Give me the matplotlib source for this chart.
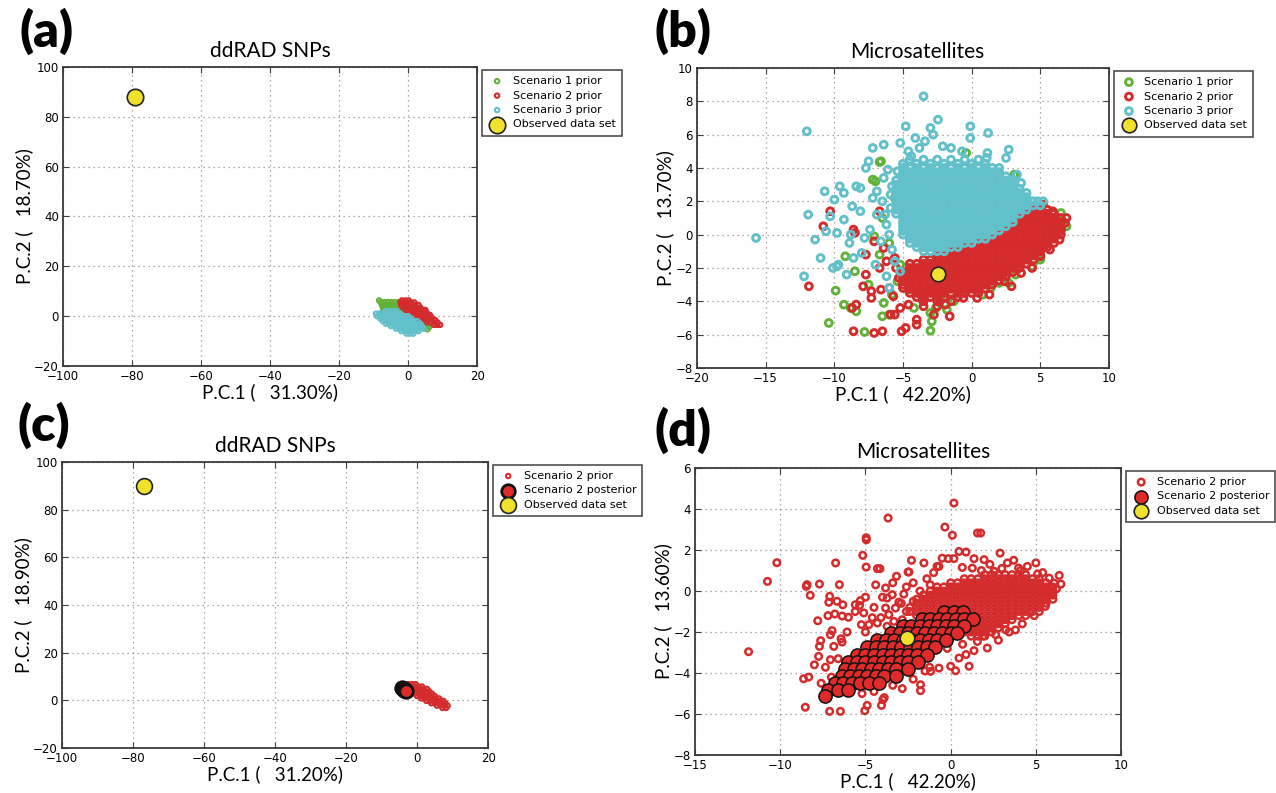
import matplotlib
matplotlib.use("Agg")
import matplotlib.pyplot as plt

GREEN = "#62b23a"
RED = "#d42c2c"
CYAN = "#62c0cb"
YELLOW = "#f0e22c"
LABEL_FONT = "Lato"

# ---------------- panel (a): ddRAD SNPs, prior clouds ----------------
A_OBS = [(-79, 88)]
A_GREEN_ROWS = [
    (6.3, [-8.4]),
    (5.6, [-7.9, -6.9, -5.9, -4.9, -3.9, -2.9]),
    (4.6, [-7.6, -6.6, -5.6, -4.6, -3.6, -2.6]),
    (3.6, [-7.3, -6.3, -5.3, -4.3, -3.3, -2.4]),
    (2.6, [-7.0, -6.0, -5.0, -4.0, -3.0, -2.0]),
    (1.6, [-7.4, -6.4, -5.4, -4.4, -3.4, -2.4, -1.4]),
    (0.6, [-0.6, 0.4, 1.4]),
    (-0.4, [0.6, 1.6, 2.6]),
    (-1.4, [1.8, 2.8, 3.8]),
    (-2.4, [2.8, 3.8, 4.8]),
    (-3.4, [3.6, 4.6, 5.6]),
    (-4.4, [4.2, 5.2, 6.1]),
    (-5.3, [5.6]),
]
A_RED_ROWS = [
    (6.3, [-1.8, -0.8, 0.2]),
    (5.5, [-2.2, -1.2, -0.2, 0.8, 1.8]),
    (4.5, [-2.0, -1.0, 0.0, 1.0, 2.0, 3.0]),
    (3.5, [-1.5, -0.5, 0.5, 1.5, 2.5, 3.5]),
    (2.5, [-0.8, 0.2, 1.2, 2.2, 3.2, 4.2, 5.0]),
    (1.5, [0.3, 1.3, 2.3, 3.3, 4.3, 5.3]),
    (0.5, [1.5, 2.5, 3.5, 4.5, 5.5, 6.3]),
    (-0.5, [2.8, 3.8, 4.8, 5.8, 6.8]),
    (-1.5, [4.0, 5.0, 6.0, 7.0, 7.8]),
    (-2.5, [5.5, 6.5, 7.5, 8.5]),
    (-3.5, [7.5, 8.5, 9.3]),
]
A_CYAN_ROWS = [
    (2.0, [-6.5, -5.5, -4.5, -3.5]),
    (1.0, [-9.3, -8.3, -7.3, -6.3, -5.3, -4.3, -3.3, -2.3]),
    (0.0, [-9.0, -8.0, -7.0, -6.0, -5.0, -4.0, -3.0, -2.0, -1.0, 0.0]),
    (-1.0, [-8.0, -7.0, -6.0, -5.0, -4.0, -3.0, -2.0, -1.0, 0.0, 1.0]),
    (-2.0, [-7.3, -6.3, -5.3, -4.3, -3.3, -2.3, -1.3, -0.3, 0.7, 1.7, 2.7]),
    (-3.0, [-6.5, -5.5, -4.5, -3.5, -2.5, -1.5, -0.5, 0.5, 1.5, 2.5, 3.5]),
    (-4.0, [-5.0, -4.0, -3.0, -2.0, -1.0, 0.0, 1.0, 2.0, 3.0, 4.0]),
    (-5.0, [-3.5, -2.5, -1.5, -0.5, 0.5, 1.5, 2.5, 3.5, 4.5]),
    (-6.0, [-2.0, -1.0, 0.0, 1.0, 2.0, 3.0]),
    (-7.0, [-0.5, 0.5, 1.5]),
]

# ---------------- panel (b): microsatellites, prior clouds ----------------
B_OBS = [(-2.45, -2.35)]
B_GREEN_PTS = [
    (-6.7, 4.36), (-7.2, 3.3), (-9.2, -1.3), (-9.9, -3.36), (-9.3, -4.2), (-8.4, -4.6),
    (-10.4, -5.3), (-7.8, -5.84), (-6.4, -4.1), (-6.5, -4.9), (-6.0, -4.8), (-6.7, -1.2),
    (-7.1, -0.1), (-5.4, -2.8), (-3.0, -5.76), (-2.9, -5.2), (-3.0, -4.7), (6.5, 1.3),
    (6.55, 0.84), (4.55, -1.6), (4.4, -1.9), (4.8, -1.2), (-2.3, -3.8), (-1.3, -4.0),
    (-0.07, -3.2), (1.4, -3.2), (5.5, 0.6), (-0.4, 4.9), (-2.5, 4.0), (3.1, 3.6),
    (-6.5, 1.0), (-5.6, 2.2), (-6.0, -0.5), (-5.2, -1.8), (-4.6, -3.3), (-5.8, -3.6),
    (-4.2, -4.4), (-3.6, -3.9), (-2.6, -4.4), (-1.8, -4.5), (-0.6, -3.5), (0.8, -3.6),
    (2.0, -2.9), (3.2, -2.4), (3.8, -1.4), (5.2, -0.6), (5.8, 0.0), (6.2, 0.4),
    (4.9, 1.4), (-1.2, 3.5), (-3.6, 3.2), (-4.4, 2.0), (-8.5, -2.2), (-7.5, -3.0),
    (-8.8, -4.4), (-6.6, 4.4), (-7.0, 3.2), (6.9, 0.5), (5.0, -1.5), (2.7, -2.9),
]
B_RED_ROWS = [
    (1.5, [4.5, 5.0, 5.5]),
    (1.25, [4.0, 4.5, 5.0, 5.5, 6.0]),
    (1.0, [3.5, 4.0, 4.5, 5.0, 5.5, 6.0, 6.5]),
    (0.75, [3.5, 4.0, 4.5, 5.0, 5.5, 6.0, 6.5]),
    (0.5, [3.0, 3.5, 4.0, 4.5, 5.0, 5.5, 6.0, 6.5]),
    (0.25, [2.5, 3.0, 3.5, 4.0, 4.5, 5.0, 5.5, 6.0, 6.5]),
    (0.0, [2.0, 2.5, 3.0, 3.5, 4.0, 4.5, 5.0, 5.5, 6.0, 6.5]),
    (-0.25, [1.5, 2.0, 2.5, 3.0, 3.5, 4.0, 4.5, 5.0, 5.5, 6.0]),
    (-0.5, [0.5, 1.0, 1.5, 2.0, 2.5, 3.0, 3.5, 4.0, 4.5, 5.0, 5.5, 6.0]),
    (-0.75, [-0.5, 0.0, 0.5, 1.0, 1.5, 2.0, 2.5, 3.0, 3.5, 4.0, 4.5, 5.0, 5.5]),
    (-1.0, [-1.5, -1.0, -0.5, 0.0, 0.5, 1.0, 1.5, 2.0, 2.5, 3.0, 3.5, 4.0, 4.5, 5.0]),
    (-1.25, [-2.5, -2.0, -1.5, -1.0, -0.5, 0.0, 0.5, 1.0, 1.5, 2.0, 2.5, 3.0, 3.5, 4.0,
             4.5, 5.0]),
    (-1.5, [-3.5, -3.0, -2.5, -2.0, -1.5, -1.0, -0.5, 0.0, 0.5, 1.0, 1.5, 2.0, 2.5, 3.0,
            3.5, 4.0, 4.5]),
    (-1.75, [-4.5, -4.0, -3.5, -3.0, -2.5, -2.0, -1.5, -1.0, -0.5, 0.0, 0.5, 1.0, 1.5,
             2.0, 2.5, 3.0, 3.5, 4.0]),
    (-2.0, [-4.5, -4.0, -3.5, -3.0, -2.5, -2.0, -1.5, -1.0, -0.5, 0.0, 0.5, 1.0, 1.5,
            2.0, 2.5, 3.0, 3.5]),
    (-2.25, [-5.0, -4.5, -4.0, -3.5, -3.0, -2.5, -2.0, -1.5, -1.0, -0.5, 0.0, 0.5, 1.0,
             1.5, 2.0, 2.5, 3.0]),
    (-2.5, [-5.0, -4.5, -4.0, -3.5, -3.0, -2.5, -2.0, -1.5, -1.0, -0.5, 0.0, 0.5, 1.0,
            1.5, 2.0, 2.5]),
    (-2.75, [-5.0, -4.5, -4.0, -3.5, -3.0, -2.5, -2.0, -1.5, -1.0, -0.5, 0.0, 0.5, 1.0,
             1.5, 2.0]),
    (-3.0, [-5.0, -4.5, -4.0, -3.5, -3.0, -2.5, -2.0, -1.5, -1.0, -0.5, 0.0, 0.5, 1.0, 1.5]),
    (-3.25, [-4.5, -4.0, -3.5, -3.0, -2.5, -2.0, -1.5, -1.0, -0.5, 0.0, 0.5, 1.0]),
    (-3.5, [-4.5, -4.0, -3.5, -3.0, -2.5, -2.0, -1.5, -1.0, -0.5, 0.0, 0.5]),
    (-3.75, [-4.0, -3.5, -3.0, -2.5, -2.0, -1.0]),
    (-4.0, [-3.5, -2.5, -1.5]),
]
B_RED_PTS = [
    (-10.3, 1.4), (-10.8, 0.5), (-8.6, 0.3), (-8.5, 0.1), (-11.85, -3.1), (-7.7, -2.4),
    (-7.9, -3.1), (-7.3, -3.8), (-8.7, -4.4), (-8.4, -4.2), (-8.6, -5.8), (-7.1, -5.9),
    (-6.5, -5.8), (-5.1, -5.8), (-5.9, -4.8), (-5.6, -4.8), (-6.7, -2.0), (-7.1, -0.4),
    (-6.4, -0.8), (-6.7, 1.4), (-6.0, -3.2), (-6.6, -3.3), (-7.3, -3.4), (-5.2, -4.4),
    (-7.7, -1.2), (-4.8, -5.6), (-4.0, -5.4), (-4.0, -5.1), (-2.75, -4.8), (-1.6, -4.9),
    (-2.5, -4.3), (-0.6, -3.8), (0.4, -3.8), (1.3, -3.6), (2.4, -2.8), (-5.6, -1.4),
    (-5.3, -2.6), (-5.7, -3.7), (-5.0, -3.2), (-4.6, -4.2), (-3.5, -4.3), (-1.9, -4.2),
    (-5.5, -2.0), (-6.2, -1.6), (2.9, -3.1), (3.6, -2.3), (4.4, -2.0), (5.0, -1.3),
    (5.7, -0.9), (6.4, -0.3), (6.8, 0.7), (6.9, 1.0), (5.9, 1.4), (5.2, 1.8),
]
B_CYAN_ROWS = [
    (4.5, [-4.5, -3.5, -2.5, -1.5, -0.5, 0.5]),
    (4.25, [-5.0, -4.0, -3.0, -2.0, -1.0, 0.0, 1.0]),
    (4.0, [-5.0, -4.5, -4.0, -3.5, -3.0, -2.5, -2.0, -1.5, -1.0, -0.5, 0.0, 0.5, 1.0, 1.5]),
    (3.75, [-5.0, -4.5, -4.0, -3.5, -3.0, -2.5, -2.0, -1.5, -1.0, -0.5, 0.0, 0.5, 1.0,
            1.5, 2.0]),
    (3.5, [-5.0, -4.5, -4.0, -3.5, -3.0, -2.5, -2.0, -1.5, -1.0, -0.5, 0.0, 0.5, 1.0,
           1.5, 2.0, 2.5]),
    (3.25, [-5.5, -5.0, -4.5, -4.0, -3.5, -3.0, -2.5, -2.0, -1.5, -1.0, -0.5, 0.0, 0.5,
            1.0, 1.5, 2.0, 2.5, 3.0]),
    (3.0, [-5.5, -5.0, -4.5, -4.0, -3.5, -3.0, -2.5, -2.0, -1.5, -1.0, -0.5, 0.0, 0.5,
           1.0, 1.5, 2.0, 2.5, 3.0]),
    (2.75, [-5.5, -5.0, -4.5, -4.0, -3.5, -3.0, -2.5, -2.0, -1.5, -1.0, -0.5, 0.0, 0.5,
            1.0, 1.5, 2.0, 2.5, 3.0, 3.5]),
    (2.5, [-5.5, -5.0, -4.5, -4.0, -3.5, -3.0, -2.5, -2.0, -1.5, -1.0, -0.5, 0.0, 0.5,
           1.0, 1.5, 2.0, 2.5, 3.0, 3.5, 4.0]),
    (2.25, [-5.5, -5.0, -4.5, -4.0, -3.5, -3.0, -2.5, -2.0, -1.5, -1.0, -0.5, 0.0, 0.5,
            1.0, 1.5, 2.0, 2.5, 3.0, 3.5, 4.0]),
    (2.0, [-5.5, -5.0, -4.5, -4.0, -3.5, -3.0, -2.5, -2.0, -1.5, -1.0, -0.5, 0.0, 0.5,
           1.0, 1.5, 2.0, 2.5, 3.0, 3.5, 4.0, 4.5]),
    (1.75, [-5.5, -5.0, -4.5, -4.0, -3.5, -3.0, -2.5, -2.0, -1.5, -1.0, -0.5, 0.0, 0.5,
            1.0, 1.5, 2.0, 2.5, 3.0, 3.5, 4.0, 4.5, 5.0]),
    (1.5, [-5.5, -5.0, -4.5, -4.0, -3.5, -3.0, -2.5, -2.0, -1.5, -1.0, -0.5, 0.0, 0.5,
           1.0, 1.5, 2.0, 2.5, 3.0, 3.5, 4.0]),
    (1.25, [-5.5, -5.0, -4.5, -4.0, -3.5, -3.0, -2.5, -2.0, -1.5, -1.0, -0.5, 0.0, 0.5,
            1.0, 1.5, 2.0, 2.5, 3.0, 3.5]),
    (1.0, [-5.0, -4.5, -4.0, -3.5, -3.0, -2.5, -2.0, -1.5, -1.0, -0.5, 0.0, 0.5, 1.0,
           1.5, 2.0, 2.5, 3.0]),
    (0.75, [-5.0, -4.5, -4.0, -3.5, -3.0, -2.5, -2.0, -1.5, -1.0, -0.5, 0.0, 0.5, 1.0,
            1.5, 2.0, 2.5, 3.0]),
    (0.5, [-5.0, -4.5, -4.0, -3.5, -3.0, -2.5, -2.0, -1.5, -1.0, -0.5, 0.0, 0.5, 1.0,
           1.5, 2.0, 2.5]),
    (0.25, [-5.0, -4.5, -4.0, -3.5, -3.0, -2.5, -2.0, -1.5, -1.0, -0.5, 0.0, 0.5, 1.0,
            1.5, 2.0]),
    (0.0, [-5.0, -4.5, -4.0, -3.5, -3.0, -2.5, -2.0, -1.5, -1.0, -0.5, 0.0, 0.5, 1.0, 1.5]),
    (-0.25, [-4.5, -4.0, -3.5, -3.0, -2.5, -2.0, -1.5, -1.0, -0.5, 0.0, 0.5, 1.0]),
    (-0.5, [-4.5, -4.0, -3.5, -3.0, -2.5, -2.0, -1.5, -1.0, -0.5, 0.0]),
    (-0.75, [-4.0, -3.5, -3.0, -2.5, -2.0, -1.5, -1.0]),
    (-1.0, [-3.5, -3.0, -2.5, -2.0]),
]
B_CYAN_PTS = [
    (-15.7, -0.2), (-12.0, 6.2), (-12.2, -2.5), (-11.4, -0.3), (-11.0, -1.4), (-11.9, 1.2),
    (-10.7, 2.6), (-10.0, 2.1), (-9.6, 2.9), (-9.3, 2.5), (-10.6, 0.2), (-10.1, -2.0),
    (-9.8, -1.9), (-9.1, -2.4), (-8.7, 1.7), (-8.4, 2.9), (-8.1, 2.8), (-7.7, 4.0),
    (-7.2, 5.2), (-6.4, 5.4), (-5.2, 5.5), (-7.5, 4.4), (-7.2, 2.2), (-8.1, 1.4),
    (-8.9, -0.5), (-8.6, -1.4), (-8.0, -1.1), (-8.8, 0.0), (-9.8, 0.1), (-6.4, 3.4),
    (-5.4, 3.8), (-5.8, 2.9), (-4.9, 4.0), (-3.5, 8.3), (-2.45, 6.9), (-3.0, 6.4),
    (-4.8, 6.5), (-0.1, 6.5), (-0.1, 5.8), (1.2, 6.1), (-2.8, 6.0), (-4.1, 5.8),
    (-3.8, 5.2), (-2.1, 5.3), (-1.5, 5.2), (-0.7, 5.0), (1.15, 4.9), (1.1, 4.6),
    (2.7, 5.1), (2.5, 4.6), (2.0, 4.0), (3.3, 3.6), (3.6, 3.1), (2.8, 3.2),
    (3.9, 2.2), (4.8, 2.0), (5.2, 2.0), (-6.5, 2.0), (-6.9, 1.2), (-6.2, 0.6),
    (-7.4, 0.3), (-6.6, -0.4), (-5.8, -0.9), (-7.0, -1.8), (-6.2, -2.5), (-5.6, -1.6),
    (-6.0, -3.2), (-5.2, -2.2), (-4.6, 5.0), (-3.4, 5.6), (-4.4, 4.7), (-6.9, 2.6),
    (-5.9, 1.6), (-7.8, -0.2), (-9.3, 0.9), (-9.7, -1.8), (-10.3, 1.1), (-6.1, 3.9),
    (-6.3, 1.2), (-6.0, 0.0), (-5.9, 2.4),
]

# ---------------- panel (c): ddRAD SNPs, scenario 2 ----------------
C_OBS = [(-77, 90)]
C_PRIOR_ROWS = [
    (6.8, [-2.4, -1.4, -0.4]),
    (5.8, [-2.6, -1.6, -0.6, 0.4, 1.4]),
    (4.8, [-2.2, -1.2, -0.2, 0.8, 1.8, 2.8]),
    (3.8, [-1.6, -0.6, 0.4, 1.4, 2.4, 3.4]),
    (2.8, [-0.8, 0.2, 1.2, 2.2, 3.2, 4.2]),
    (1.8, [0.0, 1.0, 2.0, 3.0, 4.0, 5.0]),
    (0.8, [1.2, 2.2, 3.2, 4.2, 5.2, 6.2]),
    (-0.2, [2.6, 3.6, 4.6, 5.6, 6.6, 7.4]),
    (-1.2, [4.0, 5.0, 6.0, 7.0, 8.0]),
    (-2.2, [5.6, 6.6, 7.6, 8.6]),
    (-3.2, [7.2, 8.2]),
]
C_POST_PTS = [(-4.2, 5.0), (-3.8, 4.7), (-3.6, 4.4), (-3.2, 4.0)]

# ---------------- panel (d): microsatellites, scenario 2 ----------------
D_OBS = [(-2.55, -2.3)]
D_PRIOR_ROWS = [
    (0.8, [2.0, 2.4, 2.8, 3.2, 3.6, 4.0, 4.4]),
    (0.6, [0.8, 1.2, 1.6, 2.0, 2.4, 2.8, 3.2, 3.6, 4.0, 4.4, 4.8, 5.2]),
    (0.4, [0.0, 0.4, 0.8, 1.2, 1.6, 2.0, 2.4, 2.8, 3.2, 3.6, 4.0, 4.4, 4.8, 5.2, 5.6]),
    (0.2, [-0.8, -0.4, 0.0, 0.4, 0.8, 1.2, 1.6, 2.0, 2.4, 2.8, 3.2, 3.6, 4.0, 4.4, 4.8,
           5.2, 5.6, 6.0]),
    (0.0, [-1.2, -0.8, -0.4, 0.0, 0.4, 0.8, 1.2, 1.6, 2.0, 2.4, 2.8, 3.2, 3.6, 4.0, 4.4,
           4.8, 5.2, 5.6, 6.0]),
    (-0.2, [-1.6, -1.2, -0.8, -0.4, 0.0, 0.4, 0.8, 1.2, 1.6, 2.0, 2.4, 2.8, 3.2, 3.6,
            4.0, 4.4, 4.8, 5.2, 5.6, 6.0]),
    (-0.4, [-2.0, -1.6, -1.2, -0.8, -0.4, 0.0, 0.4, 0.8, 1.2, 1.6, 2.0, 2.4, 2.8, 3.2,
            3.6, 4.0, 4.4, 4.8, 5.2, 5.6]),
    (-0.6, [-2.0, -1.6, -1.2, -0.8, -0.4, 0.0, 0.4, 0.8, 1.2, 1.6, 2.0, 2.4, 2.8, 3.2,
            3.6, 4.0, 4.4, 4.8, 5.2, 5.6]),
    (-0.8, [-2.4, -2.0, -1.6, -1.2, -0.8, -0.4, 0.0, 0.4, 0.8, 1.2, 1.6, 2.0, 2.4, 2.8,
            3.2, 3.6, 4.0, 4.4, 4.8, 5.2]),
    (-1.0, [-2.4, -2.0, -1.6, -1.2, -0.8, -0.4, 0.0, 0.4, 0.8, 1.2, 1.6, 2.0, 2.4, 2.8,
            3.2, 3.6, 4.0, 4.4, 4.8]),
    (-1.2, [-2.0, -1.6, -1.2, -0.8, -0.4, 0.0, 0.4, 0.8, 1.2, 1.6, 2.0, 2.4, 2.8, 3.2,
            3.6, 4.0, 4.4]),
    (-1.4, [-1.2, -0.8, -0.4, 0.0, 0.4, 0.8, 1.2, 1.6, 2.0, 2.4, 2.8, 3.2, 3.6]),
    (-1.6, [-0.4, 0.0, 0.4, 0.8, 1.2, 1.6, 2.0, 2.4, 2.8, 3.2]),
    (-1.8, [0.4, 0.8, 1.2, 1.6, 2.0, 2.4, 2.8]),
    (-2.0, [0.8, 1.2, 1.6, 2.0, 2.4]),
    (-2.2, [1.2, 1.6, 2.0]),
]
D_PRIOR_PTS = [
    (-3.67, 3.56), (-4.96, 2.6), (-4.95, 2.5), (-5.16, 1.74), (-4.96, 1.17), (-4.3, 1.09),
    (-4.15, 1.09), (-3.18, 0.72), (-2.5, 0.93), (-10.2, 1.38), (-10.75, 0.47), (-8.43, 0.31),
    (-8.47, 0.23), (-8.24, -0.21), (-7.7, 0.34), (-6.75, 1.37), (-6.53, 0.31), (-11.86, -2.96),
    (-7.8, -1.45), (-7.1, -0.26), (-7.15, -0.55), (-6.67, -0.5), (-6.33, -0.67), (-7.2, -1.2),
    (-6.8, -1.12), (-6.37, -1.22), (-6.0, -1.28), (-5.6, -1.0), (-5.3, -0.47), (-5.35, -0.7),
    (-5.1, -1.07), (-4.5, -0.8), (-5.0, -2.0), (-6.08, -2.0), (-6.96, -1.93), (-7.06, -2.13),
    (-6.43, -2.33), (-6.37, -2.49), (-7.63, -2.42), (-6.86, -2.7), (-7.75, -3.19), (-7.35, -3.72),
    (-7.06, -3.35), (-6.6, -3.3), (-8.63, -4.28), (-8.33, -4.2), (-8.53, -5.67), (-7.1, -5.87),
    (-6.47, -5.87), (-5.04, -5.84), (-4.9, -5.58), (-4.06, -5.58), (-3.98, -5.3), (-3.9, -5.2),
    (-2.84, -4.76), (-3.82, 0.15), (-3.73, -0.34), (-3.43, -0.18), (-3.82, -0.83), (-3.24, -0.83),
    (-3.04, -0.54), (-2.75, -0.15), (-2.6, -1.0), (-5.6, -0.67), (-5.24, -1.64), (-4.8, -1.64),
    (-4.3, -1.56), (-4.1, -1.3), (-3.73, -1.72), (-3.33, -1.48), (-3.63, -1.15), (-2.84, -1.4),
    (0.19, 4.29), (-0.34, 3.12), (0.1, 2.72), (1.57, 2.83), (1.76, 2.83), (0.49, 1.93),
    (2.9, 1.85), (-1.57, 1.37), (-0.14, 1.58), (0.19, 1.58), (1.37, 1.58), (1.96, 1.53),
    (-2.45, 0.93), (-0.69, 1.2), (0.68, 1.15), (1.27, 1.12), (2.55, 0.96), (3.33, 1.37),
    (3.98, 1.12), (5.0, 1.37), (5.1, 0.83), (5.78, 0.63), (6.37, 0.76), (6.47, 0.34),
    (6.07, 0.39), (5.58, -0.05), (5.55, -0.75), (3.23, -1.89), (3.43, -2.0), (2.15, -2.78),
    (1.37, -2.91), (1.08, -3.67), (0.29, -3.89), (0.0, -3.67), (-0.69, -3.76), (-1.24, -3.72),
    (-1.77, -4.57), (-1.77, -4.86), (-1.18, -3.92), (0.49, -3.27), (1.57, -2.46), (2.64, -2.13),
    (-2.2, 0.4), (-1.8, 0.0), (-1.4, 0.6), (-1.0, 0.9), (-2.6, 0.2), (-2.2, -0.5),
    (-2.9, -0.6), (-3.4, 0.4), (-4.0, -0.3), (-4.4, 0.3), (-2.3, 1.5), (-0.5, 1.6),
    (0.9, 1.9), (2.3, 1.3), (3.7, 1.5), (4.5, 1.2), (-4.6, -1.3), (-5.0, -0.3),
    (4.2, -1.6), (3.8, -1.9), (2.8, -2.4), (1.9, -2.2), (4.9, -1.2), (-0.2, -2.8),
    (0.7, -2.6), (0.9, -3.1), (-1.5, -3.9), (-2.2, -4.3), (-3.4, -4.6), (-4.5, -4.9),
    (-5.6, -4.6), (-6.2, -4.3), (-7.0, -4.2), (-7.6, -4.5), (-7.7, -2.7), (-8.0, -3.6),
    (-5.2, -5.0), (-1.2, 0.3), (-0.8, 1.2), (1.8, 1.0), (3.0, 1.1), (4.1, 1.0),
    (5.4, 0.9), (6.2, 0.1), (6.0, -0.4), (5.2, -1.0),
]
D_POST_ROWS = [
    (-1.0, [-0.4, 0.2, 0.7]),
    (-1.35, [-1.7, -1.2, -0.7, -0.2, 0.3, 0.8, 1.3]),
    (-1.7, [-2.8, -2.3, -1.8, -1.3, -0.8, -0.3, 0.2, 0.8]),
    (-2.05, [-3.5, -3.0, -2.5, -2.0, -1.5, -1.0, -0.5, 0.0, 0.4]),
    (-2.4, [-4.3, -3.8, -3.3, -2.8, -2.3, -1.8, -1.3, -0.8, -0.3]),
    (-2.75, [-4.9, -4.4, -3.9, -3.4, -2.9, -2.4, -1.9, -1.4, -0.9]),
    (-3.1, [-5.5, -5.0, -4.5, -4.0, -3.5, -3.0, -2.5, -2.0, -1.4]),
    (-3.45, [-6.0, -5.5, -5.0, -4.5, -4.0, -3.5, -3.0, -2.5, -1.9]),
    (-3.8, [-6.2, -5.7, -5.2, -4.7, -4.2, -3.7, -3.2, -2.5]),
    (-4.15, [-6.4, -5.9, -5.4, -4.9, -4.4, -3.9, -3.2]),
    (-4.5, [-6.8, -6.3, -5.8, -5.3, -4.8, -4.2]),
    (-4.85, [-7.2, -6.6, -6.0]),
    (-5.1, [-7.4]),
]


def rows_xy(rows):
    xs, ys = [], []
    for y, row in rows:
        for x in row:
            xs.append(x)
            ys.append(y)
    return xs, ys


def pts_xy(pts):
    return [p[0] for p in pts], [p[1] for p in pts]


def join(a, b):
    return a[0] + b[0], a[1] + b[1]


def style_axes(ax, xlim, ylim, xticks, yticks, title, xlabel, ylabel, title_x=0.5):
    ax.set_xlim(*xlim)
    ax.set_ylim(*ylim)
    ax.set_xticks(xticks)
    ax.set_yticks(yticks)
    ax.grid(True, linestyle=(0, (1, 3)), color="#a08c8c", linewidth=0.9)
    ax.set_axisbelow(True)
    ax.tick_params(direction="in", top=True, right=True, length=4, labelsize=8.5,
                   color="#404040", pad=3)
    for s in ax.spines.values():
        s.set_color("#3a3a3a")
        s.set_linewidth(1.3)
    ax.set_title(title, family=LABEL_FONT, fontsize=15, pad=7, x=title_x)
    ax.set_xlabel(xlabel, family=LABEL_FONT, fontsize=13.5, labelpad=0)
    ax.set_ylabel(ylabel, family=LABEL_FONT, fontsize=13.5, labelpad=1)


def open_pts(ax, xy, color, s, lw, label):
    return ax.scatter(xy[0], xy[1], s=s, facecolors="none", edgecolors=color,
                      linewidths=lw, label=label)


def add_legend(ax, handles):
    leg = ax.legend(handles=handles, loc="upper left", bbox_to_anchor=(1.012, 0.99),
                    borderaxespad=0, fontsize=8, scatterpoints=1, fancybox=False,
                    frameon=True, edgecolor="#222222", handletextpad=0.6,
                    labelspacing=0.4, borderpad=0.55, handlelength=1.6)
    leg.get_frame().set_linewidth(1.2)
    return leg


fig = plt.figure(figsize=(12.76, 7.93), dpi=100)

# (a)
ax = fig.add_axes([0.0494, 0.5385, 0.3245, 0.3770])
h1 = open_pts(ax, rows_xy(A_GREEN_ROWS), GREEN, 10, 1.5, "Scenario 1 prior")
h2 = open_pts(ax, rows_xy(A_RED_ROWS), RED, 10, 1.5, "Scenario 2 prior")
h3 = open_pts(ax, rows_xy(A_CYAN_ROWS), CYAN, 10, 1.5, "Scenario 3 prior")
ox, oy = pts_xy(A_OBS)
h4 = ax.scatter(ox, oy, s=140, c=YELLOW, edgecolors="#222222", linewidths=1.2,
                label="Observed data set", zorder=5)
style_axes(ax, (-100, 20), (-20, 100), range(-100, 21, 20), range(-20, 101, 20),
           "ddRAD SNPs", "P.C.1 (   31.30%)", "P.C.2 (   18.70%)")
add_legend(ax, [h1, h2, h3, h4])

# (b)
ax = fig.add_axes([0.5462, 0.5360, 0.3229, 0.3783])
h1 = open_pts(ax, pts_xy(B_GREEN_PTS), GREEN, 24, 2.1, "Scenario 1 prior")
h2 = open_pts(ax, join(rows_xy(B_RED_ROWS), pts_xy(B_RED_PTS)), RED, 24, 2.1,
              "Scenario 2 prior")
h3 = open_pts(ax, join(rows_xy(B_CYAN_ROWS), pts_xy(B_CYAN_PTS)), CYAN, 24, 2.1,
              "Scenario 3 prior")
ox, oy = pts_xy(B_OBS)
h4 = ax.scatter(ox, oy, s=110, c=YELLOW, edgecolors="#222222", linewidths=1.2,
                label="Observed data set", zorder=5)
style_axes(ax, (-20, 10), (-8, 10), range(-20, 11, 5), range(-8, 11, 2),
           "Microsatellites", "P.C.1 (   42.20%)", "P.C.2 (   13.70%)", title_x=0.535)
add_legend(ax, [h1, h2, h3, h4])

# (c)
ax = fig.add_axes([0.0486, 0.0567, 0.3339, 0.3607])
h1 = open_pts(ax, rows_xy(C_PRIOR_ROWS), RED, 10, 1.5, "Scenario 2 prior")
px, py = pts_xy(C_POST_PTS)
h2 = ax.scatter(px, py, s=95, c="#e02a2a", edgecolors="#111111", linewidths=2.0,
                label="Scenario 2 posterior", zorder=4)
ox, oy = pts_xy(C_OBS)
h3 = ax.scatter(ox, oy, s=130, c=YELLOW, edgecolors="#222222", linewidths=1.2,
                label="Observed data set", zorder=5)
style_axes(ax, (-100, 20), (-20, 100), range(-100, 21, 20), range(-20, 101, 20),
           "ddRAD SNPs", "P.C.1 (   31.20%)", "P.C.2 (   18.90%)")
add_legend(ax, [h1, h2, h3])

# (d)
ax = fig.add_axes([0.5447, 0.0479, 0.3339, 0.3619])
h1 = open_pts(ax, join(rows_xy(D_PRIOR_ROWS), pts_xy(D_PRIOR_PTS)), RED, 22, 1.8,
              "Scenario 2 prior")
px, py = rows_xy(D_POST_ROWS)
h2 = ax.scatter(px, py, s=90, c="#e02a2a", edgecolors="#111111", linewidths=1.1,
                label="Scenario 2 posterior", zorder=4)
ox, oy = pts_xy(D_OBS)
h3 = ax.scatter(ox, oy, s=110, c=YELLOW, edgecolors="#222222", linewidths=1.2,
                label="Observed data set", zorder=5)
style_axes(ax, (-15, 10), (-8, 6), range(-15, 11, 5), range(-8, 7, 2),
           "Microsatellites", "P.C.1 (   42.20%)", "P.C.2 (   13.60%)", title_x=0.535)
add_legend(ax, [h1, h2, h3])

# panel letters
for x, y, t in [(0.015, 0.99, "(a)"), (0.513, 0.99, "(b)"),
                (0.014, 0.493, "(c)"), (0.513, 0.487, "(d)")]:
    fig.text(x, y, t, family=LABEL_FONT, fontsize=36, fontweight="heavy", va="top")

fig.savefig("out.png", dpi=100)
